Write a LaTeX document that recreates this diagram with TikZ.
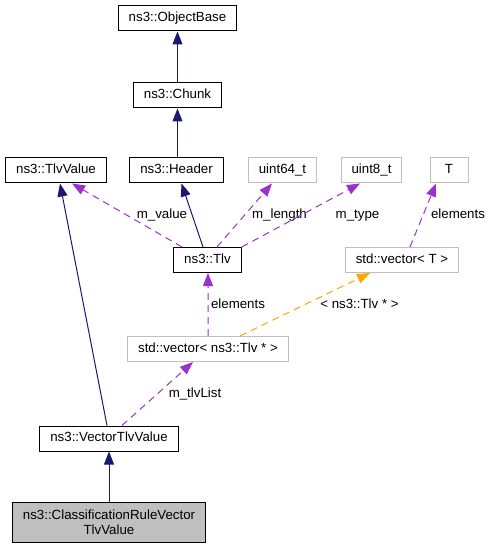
\documentclass[tikz,border=0pt]{standalone}
\usepackage{fontspec}
\setmainfont{Liberation Sans}
\usetikzlibrary{arrows.meta}

\definecolor{navy}{HTML}{191970}
\definecolor{orchid}{HTML}{9A32CD}
\definecolor{orng}{HTML}{FFA500}
\definecolor{grey75}{HTML}{BFBFBF}

\begin{document}
\begin{tikzpicture}[
  x=1bp, y=-1bp,
  every node/.style={font=\fontsize{13.3bp}{15bp}\selectfont},
  cls/.style={rectangle, draw=black, line width=1bp, align=center, inner xsep=10.5bp, inner ysep=0pt,
    minimum height=25bp, text height=9.6bp, text depth=2.8bp},
  ext/.style={cls, draw=grey75},
  cur/.style={rectangle, draw=black, fill=grey75, line width=1bp, align=center, inner xsep=10.5bp,
    inner ysep=3bp, minimum height=40bp},
  lbl/.style={inner sep=0pt, anchor=base},
  inh/.style={draw=navy, line width=1bp, -{Triangle[length=13bp, width=10bp]}},
  use/.style={draw=orchid, line width=1bp, dash pattern=on 7bp off 5bp, -{Triangle[length=13bp, width=10bp]}},
  tmpl/.style={draw=orng, line width=1bp, dash pattern=on 7bp off 5bp, -{Triangle[length=13bp, width=10bp]}}
]
\useasboundingbox (0,0) rectangle (491,548);

% Nodes
\node[cls] (objbase) at (177.5,18.5) {ns3::ObjectBase};
\node[cls] (chunk) at (177.5,95.5) {ns3::Chunk};
\node[cls] (tlvvalue) at (56,170.5) {ns3::TlvValue};
\node[cls] (header) at (176.5,170.5) {ns3::Header};
\node[ext] (uint64) at (282.5,170.5) {uint64\_t};
\node[ext] (uint8) at (371.5,170.5) {uint8\_t};
\node[ext, minimum width=38bp] (tparam) at (449,170.5) {T};
\node[cls] (tlv) at (207.5,260) {ns3::Tlv};
\node[ext] (vect) at (402,260) {std::vector< T >};
\node[ext] (vectlv) at (208,349) {std::vector< ns3::Tlv * >};
\node[cls] (vtv) at (109,438.5) {ns3::VectorTlvValue};
\node[cur] (crvtv) at (109,522) {ns3::ClassificationRuleVector\\TlvValue};

% Labels
\node[lbl] (lvalue) at (162,219) {m\_value};
\node[lbl] (llength) at (279.5,219) {m\_length};
\node[lbl] (ltype) at (357.5,219) {m\_type};
\node[lbl] (lelemt) at (458,219) {elements};
\node[lbl] (lelemtlv) at (238,308) {elements};
\node[lbl] (ltmpl) at (359.5,308) {< ns3::Tlv * >};
\node[lbl] (llist) at (195,397) {m\_tlvList};

% Arrows
\draw[inh] (chunk) -- (objbase);
\draw[inh] ([xshift=1bp]header.north) -- (chunk);
\draw[inh] ([xshift=-4.5bp]tlv.north) -- ([xshift=5bp]header.south);
\draw[inh] ([xshift=-2bp]vtv.north) -- ([xshift=4bp]tlvvalue.south);
\draw[inh] (crvtv) -- (vtv);
\draw[use] ([xshift=-25.5bp]tlv.north) -- ([xshift=16bp]tlvvalue.south);
\draw[use] ([xshift=9.5bp]tlv.north) -- ([xshift=-10.5bp]uint64.south);
\draw[use] (tlv.north east) -- ([xshift=-11.5bp]uint8.south);
\draw[use] ([xshift=8bp]vect.north) -- ([xshift=-13bp]tparam.south);
\draw[use] (vectlv) -- ([xshift=0.5bp]tlv.south);
\draw[tmpl] ([xshift=32bp]vectlv.north) -- ([xshift=-32bp]vect.south);
\draw[use] ([xshift=13bp]vtv.north) -- ([xshift=-15bp]vectlv.south);

\end{tikzpicture}
\end{document}
